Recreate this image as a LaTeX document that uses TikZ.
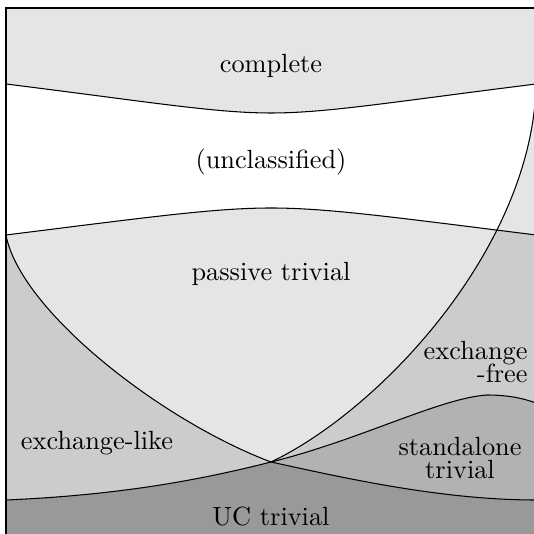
\documentclass[tikz,border=0pt]{standalone}
\usepackage{amsmath}
\usepackage{tikz}

\begin{document}
\begin{tikzpicture}[x=0.38pt, y=-0.38pt]
\useasboundingbox (0,0) rectangle (534,534);
\coordinate (X) at (271,462);
\begin{scope}
\clip (6,8) rectangle (536,538);
\fill[black!10] (6,8) rectangle (536,538);
\begin{scope}
\clip (6,84) .. controls (150,102) and (215,113) .. (271,113) .. controls (327,113) and (392,102) .. (536,84) -- (536,235) .. controls (392,217) and (327,208) .. (271,208) .. controls (215,208) and (150,217) .. (6,235) -- cycle;
\fill[white] (6,235) .. controls (20,310) and (160,420) .. (X) .. controls (380,410) and (530,250) .. (536,88) -- (536,0) -- (6,0) -- cycle;
\end{scope}
\begin{scope}
\clip (6,235) .. controls (150,217) and (215,208) .. (271,208) .. controls (327,208) and (392,217) .. (536,235) -- (536,540) -- (6,540) -- cycle;
\fill[black!20] (6,200) rectangle (536,540);
\fill[black!10] (6,235) .. controls (20,310) and (160,420) .. (X) .. controls (380,410) and (530,250) .. (536,88) -- (536,0) -- (6,0) -- cycle;
\end{scope}
\fill[black!30] (X) .. controls (360,440) and (440,398) .. (487,395) .. controls (510,395) and (525,399) .. (536,403) -- (536,500) .. controls (440,500) and (340,477) .. (X) -- cycle;
\fill[black!40] (6,500) .. controls (120,495) and (200,480) .. (X) .. controls (340,477) and (440,500) .. (536,500) -- (536,540) -- (6,540) -- cycle;

\draw (6,84) .. controls (150,102) and (215,113) .. (271,113) .. controls (327,113) and (392,102) .. (536,84);
\draw (6,235) .. controls (150,217) and (215,208) .. (271,208) .. controls (327,208) and (392,217) .. (536,235);
\draw (6,235) .. controls (20,310) and (160,420) .. (X) .. controls (380,410) and (530,250) .. (536,88);
\draw (6,500) .. controls (120,495) and (200,480) .. (X) .. controls (340,477) and (440,500) .. (536,500);
\draw (X) .. controls (360,440) and (440,398) .. (487,395) .. controls (510,395) and (525,399) .. (536,403);
\end{scope}
\draw[semithick] (6,8) rectangle (536,538);

\node (complete) at (271,66) {complete};
\node (unclassified) at (271,162) {(unclassified)};
\node (passive) at (271,274) {passive trivial};
\node (exlike) at (97,443) {exchange-like};
\node[align=right, anchor=east, inner sep=0pt] (exfree) at (528,362) {exchange\\[-3.5pt]-free};
\node[align=center] (standalone) at (460,458) {standalone\\[-3.5pt]trivial};
\node (uc) at (271,517) {UC trivial};
\end{tikzpicture}
\end{document}
